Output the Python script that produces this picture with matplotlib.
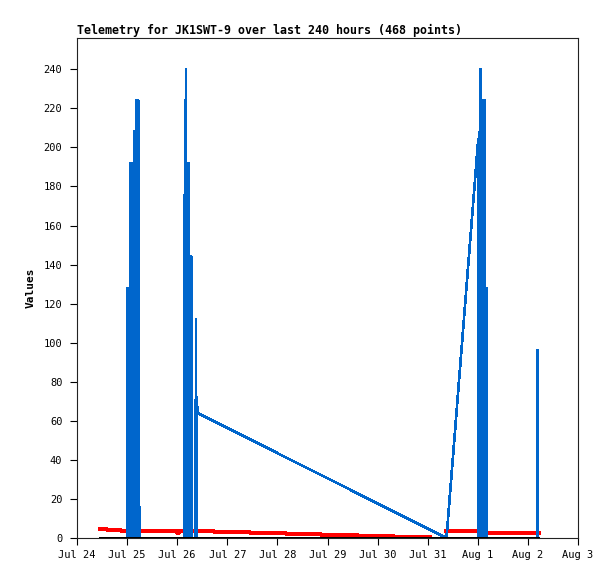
from matplotlib import pyplot as plt
import matplotlib.dates as mdates
from matplotlib.ticker import FuncFormatter
import numpy as np
import datetime as dt

plt.rcParams.update({
    "font.family": 'DejaVu Sans Mono',
    "font.size": 7.5,
})

START = dt.datetime(2023, 7, 24)
TITLE = "Telemetry for JK1SWT-9 over last 240 hours (468 points)"

# blue series: hours since Jul 24 00:00 and values
blue_hours = [
    24.0, 24.2, 24.4, 24.6, 24.8, 25.0, 25.2, 25.4, 25.6, 25.8, 26.0, 26.2,
    26.4, 26.6, 26.8, 27.0, 27.2, 27.4, 27.6, 27.8, 28.0, 28.2, 28.4, 28.6,
    28.8, 29.0, 29.2, 29.4, 29.6, 29.8, 30.0,
    51.5, 51.7, 51.9, 52.2, 52.4, 52.6, 52.8, 53.0, 53.2, 53.4, 53.6, 53.9,
    54.1, 54.4, 54.6, 54.8, 55.0,
    56.8, 57.0, 57.2, 57.4, 57.7, 177.0,
    192.2, 192.4, 192.7, 192.9, 193.2, 193.4, 193.6, 193.8, 194.2, 194.4,
    194.7, 194.9, 195.2, 195.4, 195.7, 195.9, 196.2, 196.4,
    220.4, 220.6, 220.8,
]
blue_values = [
    0, 128, 0, 128, 0, 128, 0, 192, 0, 176, 0, 176,
    0, 192, 0, 192, 0, 208, 0, 208, 0, 224, 0, 224,
    0, 224, 0, 224, 0, 16, 0,
    0, 224, 0, 240, 0, 192, 0, 192, 0, 192, 0, 16,
    0, 144, 0, 144, 0,
    0, 112, 0, 72, 64, 0,
    204, 0, 208, 0, 240, 0, 240, 0, 48, 0,
    224, 0, 224, 0, 128, 0, 128, 0,
    0, 96, 0,
]

# red series (step line), two parts with a gap
red_hours_a = [10.9, 14.3, 21.0, 48.0, 49.0, 65.7, 83.0, 100.3, 117.1, 134.4, 151.7, 168.9]
red_values_a = [4.8, 4.25, 3.75, 2.4, 3.75, 3.2, 2.7, 2.2, 1.7, 1.2, 0.7, 0.7]
red_hours_b = [177.0, 193.3, 221.1]
red_values_b = [3.6, 2.55, 2.55]

# black series at zero
black_hours = [10.9, 221.1]
black_values = [0, 0]


def to_dates(hours):
    return [START + dt.timedelta(hours=h) for h in hours]


fig = plt.figure(figsize=(6.15, 5.79), dpi=100)
ax = fig.add_axes([77 / 615, 41 / 579, 501 / 615, 500 / 579])

ax.plot(to_dates(red_hours_a), red_values_a, color='#ff0000', lw=1.5,
        drawstyle='steps-post', zorder=2, antialiased=False)
ax.plot(to_dates(red_hours_b), red_values_b, color='#ff0000', lw=1.5,
        drawstyle='steps-post', zorder=2, antialiased=False)
ax.plot(to_dates(blue_hours), blue_values, color='#0066cc', lw=1.2, zorder=3,
        antialiased=False)
ax.plot(to_dates(black_hours), black_values, color='black', lw=1.4, zorder=4,
        antialiased=False)

ax.set_xlim(START, START + dt.timedelta(hours=240))
ax.set_ylim(0, 256)
ax.set_yticks(np.arange(0, 241, 20))

ax.xaxis.set_major_locator(mdates.DayLocator())
ax.xaxis.set_major_formatter(FuncFormatter(
    lambda v, pos: (lambda d: f"{d:%b} {d.day}")(mdates.num2date(v))))

ax.tick_params(direction='out', length=5, width=0.8, colors='black')
ax.tick_params(axis='x', pad=3.5)
ax.tick_params(axis='y', pad=5.5)

for s in ax.spines.values():
    s.set_linewidth(0.8)
    s.set_color('#222222')

ax.set_title(TITLE, loc='left', fontsize=8.4, fontweight='bold', pad=3)
ax.set_ylabel('Values', fontsize=8, fontweight='bold', labelpad=6)

fig.savefig("out.png", dpi=100)
